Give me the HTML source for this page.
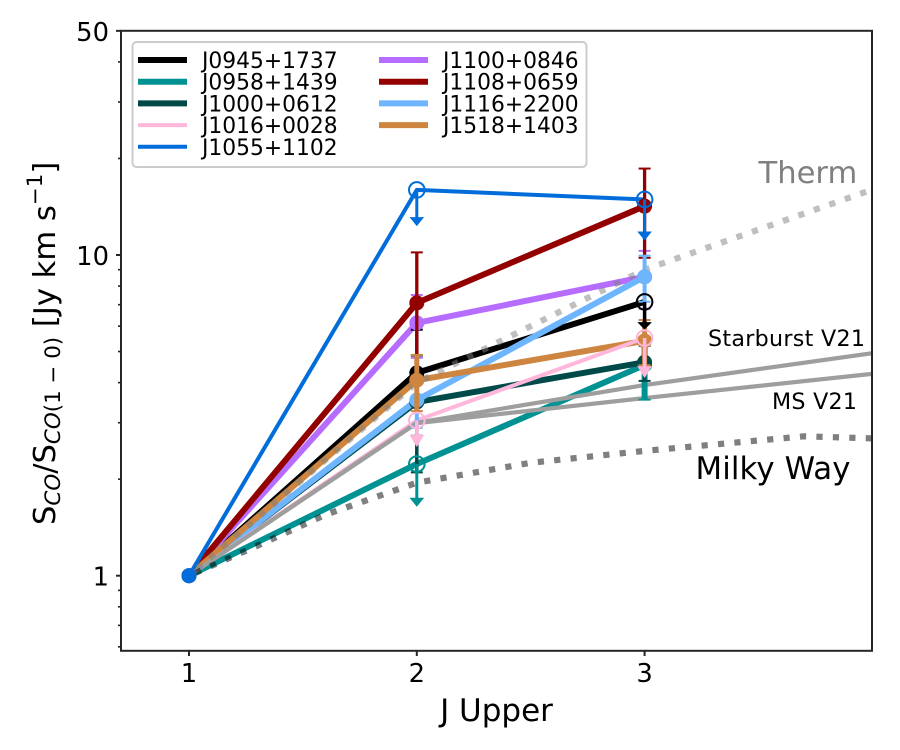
<!DOCTYPE html>
<html lang="en">
<head>
<meta charset="utf-8">
<title>CO excitation ladder</title>
<style>
html,body{margin:0;padding:0;background:#fff;width:900px;height:750px;overflow:hidden}
svg{display:block}
text{font-family:"DejaVu Sans","Liberation Sans",sans-serif;fill:#000}
</style>
</head>
<body>
<svg id="chart" xmlns="http://www.w3.org/2000/svg" width="900" height="750" viewBox="0 0 900 750">
  <defs><clipPath id="plot-clip"><rect x="121" y="30.8" width="751" height="620"/></clipPath></defs>
  <g id="plot-lines" clip-path="url(#plot-clip)"></g>
  <g id="plot-refs" clip-path="url(#plot-clip)"></g>
  <g id="plot-marks" clip-path="url(#plot-clip)"></g>
  <g id="axes"></g>

  <text x="758.5" y="183" font-size="30.6" style="fill:#808080">Therm</text>
  <text x="708" y="346" font-size="22.2" textLength="157">Starburst V21</text>
  <text x="772" y="409" font-size="22.2" textLength="85">MS V21</text>
  <text x="695.5" y="479" font-size="30.8" textLength="155">Milky Way</text>

  <text x="496.5" y="721" text-anchor="middle" font-size="31">J Upper</text>
  <text transform="translate(55 525) rotate(-90)" font-size="30.6">S<tspan font-size="21.4" font-style="italic" dy="5">CO</tspan><tspan dy="-5">/S</tspan><tspan font-size="21.4" font-style="italic" dy="5">CO</tspan><tspan font-size="21.4">(1 − 0)</tspan><tspan dy="-5"> [Jy km s</tspan><tspan font-size="21.4" dy="-13">−1</tspan><tspan dy="13">]</tspan></text>

  <g id="legend">
    <rect x="132.5" y="42" width="454" height="125" rx="4" fill="#fff" fill-opacity="0.8" stroke="#cccccc" stroke-width="2"/>
  </g>
</svg>
<script>
// ---- chart data ----
const jLevels = [1, 2, 3];
const sourceNames = ["J0945+1737","J0958+1439","J1000+0612","J1016+0028","J1055+1102","J1100+0846","J1108+0659","J1116+2200","J1518+1403"];

const ratioJ0945 = [1, 4.29, 7.14];
const ratioJ0958 = [1, 2.23, 4.54];
const ratioJ1000 = [1, 3.48, 4.63];
const ratioJ1016 = [1, 3.05, 5.51];
const ratioJ1055 = [1, 15.96, 14.9];
const ratioJ1100 = [1, 6.14, 8.55];
const ratioJ1108 = [1, 7.09, 14.2];
const ratioJ1116 = [1, 3.53, 8.55];
const ratioJ1518 = [1, 4.07, 5.4];
const sourceRatios = [ratioJ0945, ratioJ0958, ratioJ1000, ratioJ1016, ratioJ1055, ratioJ1100, ratioJ1108, ratioJ1116, ratioJ1518];

const errorJ0945 = [0, 1.56, 1.29];
const errorJ0958 = [0, 0.59, 1.0];
const errorJ1000 = [0, 1.38, 0.58];
const errorJ1016 = [0, 0.53, 1.38];
const errorJ1055 = [0, 3.66, 3.8];
const errorJ1100 = [0, 1.36, 1.75];
const errorJ1108 = [0, 3.1, 4.4];
const errorJ1116 = [0, 0.64, 1.4];
const errorJ1518 = [0, 0.81, 0.87];
const sourceErrors = [errorJ0945, errorJ0958, errorJ1000, errorJ1016, errorJ1055, errorJ1100, errorJ1108, errorJ1116, errorJ1518];

// 1 = upper limit at that J level
const limitJ0945 = [0, 0, 1];
const limitJ0958 = [0, 1, 0];
const limitJ1000 = [0, 0, 0];
const limitJ1016 = [0, 1, 1];
const limitJ1055 = [0, 1, 1];
const limitJ1100 = [0, 0, 0];
const limitJ1108 = [0, 0, 0];
const limitJ1116 = [0, 0, 0];
const limitJ1518 = [0, 0, 0];
const sourceLimits = [limitJ0945, limitJ0958, limitJ1000, limitJ1016, limitJ1055, limitJ1100, limitJ1108, limitJ1116, limitJ1518];

const thermJ = [1, 2, 3, 4];
const thermValues = [1, 4, 9, 16];
const starburstJ = [1, 2, 3, 4];
const starburstValues = [1, 3.0, 3.93, 4.94];
const msJ = [1, 2, 3, 4];
const msValues = [1, 2.99, 3.58, 4.26];
const milkyJ = [1, 1.3, 1.6, 2, 2.5, 3, 3.7, 4];
const milkyValues = [1, 1.24, 1.55, 1.95, 2.25, 2.45, 2.72, 2.68];

const xTickValues = [1, 2, 3];
const yMajorTicks = [1, 10, 50];
const yMinorTicks = [0.6, 0.7, 0.8, 0.9, 2, 3, 4, 5, 6, 7, 8, 9, 20, 30, 40];

// ---- styles ----
const sourceColors = ["#000000","#009292","#004949","#ffb6db","#006ddb","#b66dff","#920000","#6db6ff","#cd853f"];
const sourceWidths = [6, 6, 6, 4, 4, 6, 6, 6, 6];
const errorWidths = [3.5, 6, 3.5, 4, 3, 3, 3.3, 4, 5];
const limitStemWidths = [3.5, 3, 3, 3.5, 3, 3, 3, 3, 3];
const headHeights = [7.5, 9, 9, 12, 9, 9, 9, 9, 9];
const NS = "http://www.w3.org/2000/svg";

// ---- axis functions ----
function xPos(j) { return 189 + (j - 1) * 227.8; }
function yPos(v) { return 575.7 - 320.7 * Math.log10(v); }

function make(tag, attrs, parent) {
  const el = document.createElementNS(NS, tag);
  for (const k in attrs) el.setAttribute(k, attrs[k]);
  parent.appendChild(el);
  return el;
}
function pointsOf(js, vs) {
  return js.map(function (j, i) { return xPos(j).toFixed(2) + "," + yPos(vs[i]).toFixed(2); }).join(" ");
}

const linesG = document.getElementById("plot-lines");
const refsG = document.getElementById("plot-refs");
const marksG = document.getElementById("plot-marks");
const axesG = document.getElementById("axes");
const legendG = document.getElementById("legend");

// ---- source lines ----
const drawOrder = [0, 1, 2, 5, 6, 7, 8, 3, 4];
drawOrder.forEach(function (s) {
  const line = make("polyline", {
    points: pointsOf(jLevels, sourceRatios[s]), fill: "none",
    stroke: sourceColors[s], "stroke-width": sourceWidths[s], "stroke-linejoin": "round"
  }, linesG);
  
  
});

// ---- reference models ----
const starLine = make("polyline", { points: pointsOf(starburstJ, starburstValues), fill: "none", stroke: "#9e9e9e", "stroke-width": 4.2 }, refsG);


const msLine = make("polyline", { points: pointsOf(msJ, msValues), fill: "none", stroke: "#9e9e9e", "stroke-width": 4.2 }, refsG);


const thermLine = make("polyline", { points: pointsOf(thermJ, thermValues), fill: "none", stroke: "#808080", "stroke-opacity": 0.5, "stroke-width": 6.2, "stroke-dasharray": "6.2 10.2", "stroke-dashoffset": 5.7 }, refsG);


const milkyLine = make("polyline", { points: pointsOf(milkyJ, milkyValues), fill: "none", stroke: "#000", "stroke-opacity": 0.5, "stroke-width": 6.2, "stroke-dasharray": "6.2 10.26", "stroke-dashoffset": -6.9 }, refsG);



// ---- error bars, markers (detections first, limits on top) ----
drawOrder.forEach(function (s) {
  jLevels.forEach(function (j, i) {
    if (sourceLimits[s][i]) return;
    const v = sourceRatios[s][i], e = sourceErrors[s][i], x = xPos(j), c = sourceColors[s];
    if (e > 0) {
      const yt = yPos(v + e), yb = yPos(Math.max(v - e, 0.01));
      const bar = make("line", { x1: x, x2: x, y1: yt, y2: yb, stroke: c, "stroke-width": errorWidths[s] }, marksG);
      
      
      [yt, yb].forEach(function (cy) {
        const cap = make("line", { x1: x - 6, x2: x + 6, y1: cy, y2: cy, stroke: c, "stroke-width": 2 }, marksG);
        
        
      });
    }
    const dot = make("circle", { cx: x, cy: yPos(v), r: 7.5, fill: c }, marksG);
    
    
  });
});
drawOrder.forEach(function (s) {
  jLevels.forEach(function (j, i) {
    if (!sourceLimits[s][i]) return;
    const v = sourceRatios[s][i], e = sourceErrors[s][i], x = xPos(j), c = sourceColors[s];
    const y = yPos(v), tip = yPos(v - e), hh = headHeights[s];
    const stem = make("line", { x1: x, x2: x, y1: y, y2: tip - hh + 1, stroke: c, "stroke-width": limitStemWidths[s] }, marksG);
    
    
    const head = make("polygon", { points: (x - 7.3) + "," + (tip - hh) + " " + (x + 7.3) + "," + (tip - hh) + " " + x + "," + tip, fill: c }, marksG);
    
    
    const ring = make("circle", { cx: x, cy: y, r: 7.8, fill: "none", stroke: c, "stroke-width": 2 }, marksG);
    
    
  });
});
// the shared J=1 normalisation point is topped by the last source
const normDot = make("circle", { cx: xPos(jLevels[0]), cy: yPos(sourceRatios[4][0]), r: 7.5, fill: sourceColors[4] }, marksG);



// ---- axes ----
const frame = make("rect", { x: 121, y: 30.8, width: 751, height: 620, fill: "none", stroke: "#262626", "stroke-width": 2 }, axesG);



xTickValues.forEach(function (t) {
  const tick = make("line", { x1: xPos(t), x2: xPos(t), y1: 651, y2: 656, stroke: "#262626", "stroke-width": 2 }, axesG);
  
  
  const label = make("text", { x: xPos(t), y: 682, "text-anchor": "middle", "font-size": 25.8 }, axesG);
  label.textContent = String(t);
  
  
});
yMajorTicks.forEach(function (t) {
  const tick = make("line", { x1: 116, x2: 121, y1: yPos(t), y2: yPos(t), stroke: "#262626", "stroke-width": 2 }, axesG);
  
  
  const label = make("text", { x: 109, y: yPos(t) + 10, "text-anchor": "end", "font-size": 25.8 }, axesG);
  label.textContent = String(t);
  
  
});
yMinorTicks.forEach(function (t) {
  const tick = make("line", { x1: 118, x2: 121, y1: yPos(t), y2: yPos(t), stroke: "#262626", "stroke-width": 1.6 }, axesG);
  
  
});

// ---- legend ----
sourceNames.forEach(function (name, i) {
  const col = i < 5 ? 0 : 1;
  const row = i < 5 ? i : i - 5;
  const lx = col === 0 ? 138 : 379;
  const ly = 60 + row * 21.7;
  const swatch = make("line", { x1: lx, x2: lx + 49, y1: ly, y2: ly, stroke: sourceColors[i], "stroke-width": sourceWidths[i] }, legendG);
  
  
  const label = make("text", { x: lx + 64, y: ly + 8, "font-size": 21.8 }, legendG);
  label.textContent = name;
  
  
});
</script>
</body>
</html>
